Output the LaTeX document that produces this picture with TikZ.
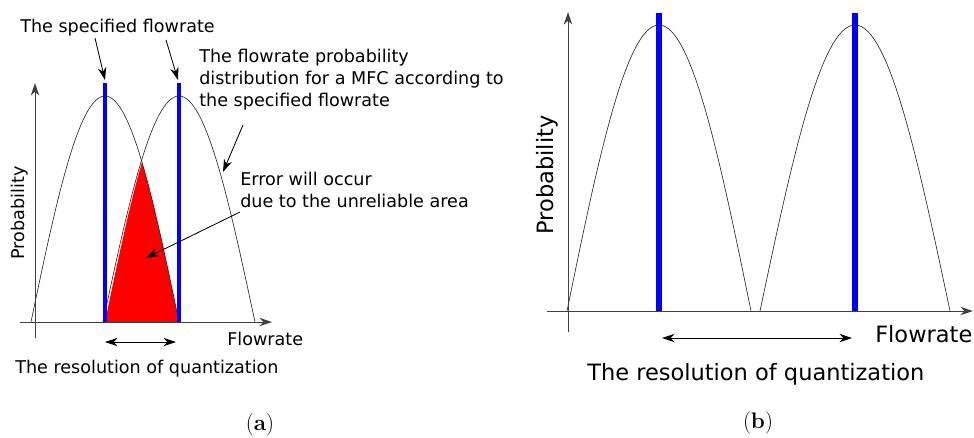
\documentclass[tikz,border=0pt]{standalone}
\usepackage{fontspec}
\newfontfamily\dejavu{DejaVu Sans}
\usetikzlibrary{arrows.meta,positioning}

\begin{document}
\begin{tikzpicture}[x=0.025cm, y=-0.025cm, >={Stealth[length=9pt, width=6pt]},
  axis/.style={->, draw=black!75, line width=0.7pt},
  curve/.style={draw=black!85, line width=0.45pt},
  setpoint/.style={draw=blue, line width=2.9pt},
  pointer/.style={->, line width=0.6pt},
  labela/.style={font=\dejavu\fontsize{12.5}{15.6}\selectfont, inner sep=0pt, align=left},
  labelb/.style={font=\dejavu\fontsize{16}{19}\selectfont, inner sep=0pt},
  caption/.style={font=\fontsize{16}{18}\selectfont, inner sep=0pt}]
\path[use as bounding box] (0,0) rectangle (974,437);
\coordinate (aYlo) at (35,338);
\coordinate (aYhi) at (35,83);
\coordinate (aXlo) at (20,322);
\coordinate (aXhi) at (272,322);
\coordinate (aP1lo) at (105,322);
\coordinate (aP1hi) at (105,83);
\coordinate (aP2lo) at (179,322);
\coordinate (aP2hi) at (179,83);
\coordinate (aRes1) at (105,342);
\coordinate (aRes2) at (176,342);
\coordinate (aTip1) at (105,80);
\coordinate (aTip2) at (178,80);
\coordinate (aTail1) at (95,38);
\coordinate (aTail2) at (166,40);
\coordinate (aCurveTail) at (243,125);
\coordinate (aCurveTip) at (223,172);
\coordinate (aErrTail) at (240,212);
\coordinate (aErrTip) at (146,258);
\fill[red] plot[domain=-1:-0.5, samples=20] ({179+74*\x},{322-226*cos(90*\x)})
  -- plot[domain=0.5:1, samples=20] ({105+74*\x},{322-226*cos(90*\x)}) -- cycle;
\draw[curve] plot[domain=-1:1, samples=61] ({105+74*\x},{322-226*cos(90*\x)});
\draw[curve] plot[domain=-1:1, samples=61] ({179+76*\x},{322-226*cos(90*\x)});
\draw[setpoint] (aP1lo) -- (aP1hi);
\draw[setpoint] (aP2lo) -- (aP2hi);
\draw[axis] (aYlo) -- (aYhi);
\draw[axis] (aXlo) -- (aXhi);
\draw[<->, line width=0.6pt] (aRes1) -- (aRes2);
\node[labela, anchor=base west] (spec) at (20,32) {The specified flowrate};
\node[labela, anchor=north west] (distr) at (199,49) {The flowrate probability\\distribution for a MFC according to\\the specified flowrate};
\node[labela, anchor=north west] (err) at (240,172) {Error will occur\\due to the unreliable area};
\node[labela, rotate=90] (probA) at (20,213) {Probability};
\node[labela, anchor=base west] (flowA) at (227,345) {Flowrate};
\node[labela, anchor=base west] (resA) at (15,373) {The resolution of quantization};
\node[caption] (capA) at (260,425) {({\bfseries a})};
\draw[pointer] (aTail1) -- (aTip1);
\draw[pointer] (aTail2) -- (aTip2);
\draw[pointer] (aCurveTail) -- (aCurveTip);
\draw[pointer] (aErrTail) -- (aErrTip);
\coordinate (bYlo) at (568,332);
\coordinate (bYhi) at (568,12);
\coordinate (bXlo) at (547,311);
\coordinate (bXhi) at (973,311);
\coordinate (bP1lo) at (659,311);
\coordinate (bP1hi) at (659,13);
\coordinate (bP2lo) at (855,311);
\coordinate (bP2hi) at (855,13);
\coordinate (bRes1) at (662,338);
\coordinate (bRes2) at (852,338);
\draw[curve] plot[domain=-1:1, samples=61] ({659+92*\x},{311-286*cos(90*\x)});
\draw[curve] plot[domain=-1:1, samples=61] ({855+95*\x},{311-286*cos(90*\x)});
\draw[setpoint, line width=3.6pt] (bP1lo) -- (bP1hi);
\draw[setpoint, line width=3.6pt] (bP2lo) -- (bP2hi);
\draw[axis] (bYlo) -- (bYhi);
\draw[axis] (bXlo) -- (bXhi);
\draw[<->, line width=0.6pt] (bRes1) -- (bRes2);
\node[labelb, rotate=90] (probB) at (547,175) {Probability};
\node[labelb, anchor=base west] (flowB) at (875,342) {Flowrate};
\node[labelb, anchor=base west] (resB) at (587,380) {The resolution of quantization};
\node[caption] (capB) at (758,423) {({\bfseries b})};
\end{tikzpicture}
\end{document}
